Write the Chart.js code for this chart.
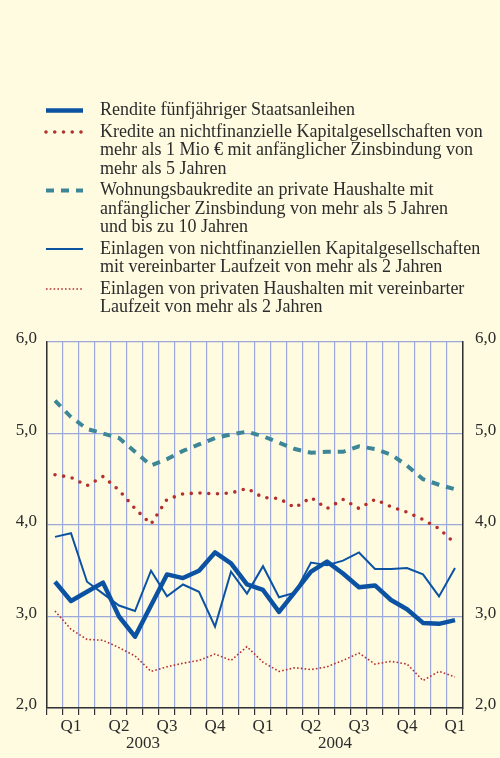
<!DOCTYPE html>
<html>
<head>
<meta charset="utf-8">
<script src="https://cdn.jsdelivr.net/npm/chart.js@4/dist/chart.umd.min.js"></script>
<style>
    html, body { margin: 0; padding: 0; background: #fffbe1; }
    #wrap { width: 500px; height: 758px; }
</style>
</head>
<body>
<div id="wrap"><canvas id="chart-zinsen"></canvas></div>
<script>
// Monate Jan 2003 bis Feb 2005
const months = ["Jan 03", "Feb 03", "Mär 03", "Apr 03", "Mai 03", "Jun 03", "Jul 03", "Aug 03", "Sep 03", "Okt 03", "Nov 03", "Dez 03",
    "Jan 04", "Feb 04", "Mär 04", "Apr 04", "Mai 04", "Jun 04", "Jul 04", "Aug 04", "Sep 04", "Okt 04", "Nov 04", "Dez 04",
    "Jan 05", "Feb 05"];
const quarter_labels = ["", "Q1", "", "", "Q2", "", "", "Q3", "", "", "Q4", "",
    "", "Q1", "", "", "Q2", "", "", "Q3", "", "", "Q4", "",
    "", "Q1"];
const years = ["2003", "2004"];
const y_ticks = ["2,0", "3,0", "4,0", "5,0", "6,0"];

const rendite = [3.38, 3.17, 3.27, 3.37, 3.00, 2.78, 3.12, 3.46, 3.42, 3.50, 3.70, 3.58,
    3.35, 3.29, 3.05, 3.27, 3.49, 3.60, 3.47, 3.32, 3.34, 3.18, 3.08, 2.93, 2.92, 2.96];
const kredite_nfk = [4.55, 4.52, 4.43, 4.53, 4.38, 4.18, 4.01, 4.28, 4.34, 4.35, 4.34, 4.35,
    4.40, 4.30, 4.29, 4.19, 4.30, 4.18, 4.28, 4.18, 4.28, 4.20, 4.14, 4.06, 3.96, 3.80];
const wohnungsbau = [5.36, 5.18, 5.05, 5.00, 4.95, 4.80, 4.65, 4.72, 4.81, 4.88, 4.95, 4.99,
    5.02, 4.97, 4.90, 4.83, 4.79, 4.80, 4.80, 4.86, 4.83, 4.77, 4.65, 4.50, 4.44, 4.39];
const einlagen_nfk = [3.87, 3.91, 3.38, 3.25, 3.12, 3.06, 3.50, 3.22, 3.35, 3.27, 2.89, 3.49,
    3.25, 3.55, 3.21, 3.26, 3.59, 3.56, 3.61, 3.70, 3.52, 3.52, 3.53, 3.46, 3.22, 3.53];
const einlagen_hh = [3.06, 2.86, 2.75, 2.74, 2.66, 2.57, 2.40, 2.45, 2.49, 2.52, 2.59, 2.52,
    2.67, 2.50, 2.40, 2.44, 2.42, 2.45, 2.52, 2.60, 2.48, 2.51, 2.48, 2.30, 2.40, 2.34];

const blau = "#0b53a2";
const rot = "#b4302e";
const petrol = "#3d8698";
const gitter = "#9aa8dc";
const text_farbe = "#2b2b2b";
const schrift = "'Liberation Serif', 'Times New Roman', serif";

Chart.defaults.font.family = schrift;
Chart.defaults.font.size = 17;
Chart.defaults.color = text_farbe;

// Legende links oben, mehrzeilig, mit Linienmustern
const legende_plugin = {
    id: "legende",
    afterDraw(chart) {
        const ctx = chart.ctx;
        let y = 110.5;
        chart.data.datasets.forEach((ds) => {
            ctx.save();
            ctx.strokeStyle = ds.borderColor;
            ctx.lineWidth = ds.borderWidth;
            ctx.lineCap = ds.borderCapStyle || "butt";
            ctx.setLineDash(ds.borderDash || []);
            ctx.beginPath();
            ctx.moveTo(46, y);
            ctx.lineTo(83, y);
            ctx.stroke();
            ctx.restore();

            ctx.save();
            ctx.fillStyle = text_farbe;
            ctx.font = "18px " + schrift;
            ctx.textBaseline = "middle";
            ds.label.forEach((zeile, i) => {
                ctx.fillText(zeile, 100, y + i * 18.5);
            });
            ctx.restore();
            y += ds.label.length * 18.5 + 3;
        });

        // Jahreszahlen unter den Quartalen
        const x_scale = chart.scales.x;
        ctx.save();
        ctx.fillStyle = text_farbe;
        ctx.font = "17px " + schrift;
        ctx.textAlign = "center";
        ctx.textBaseline = "middle";
        years.forEach((jahr, i) => {
            const x = (x_scale.getPixelForValue(5 + i * 12) + x_scale.getPixelForValue(6 + i * 12)) / 2;
            ctx.fillText(jahr, x, 744);
        });
        ctx.restore();
    },
};

const y_label = (value) => {
    const idx = Math.round(value) - 2;
    return y_ticks[idx] !== undefined ? y_ticks[idx] : "";
};

new Chart(document.getElementById("chart-zinsen"), {
    type: "line",
    data: {
        labels: months,
        datasets: [
            {
                label: ["Rendite fünfjähriger Staatsanleihen"],
                data: rendite,
                borderColor: blau,
                borderWidth: 4.5,
                borderJoinStyle: "round",
            },
            {
                label: ["Kredite an nichtfinanzielle Kapitalgesellschaften von",
                    "mehr als 1 Mio € mit anfänglicher Zinsbindung von",
                    "mehr als 5 Jahren"],
                data: kredite_nfk,
                borderColor: rot,
                borderWidth: 3.6,
                borderDash: [0, 8.75],
                borderCapStyle: "round",
            },
            {
                label: ["Wohnungsbaukredite an private Haushalte mit",
                    "anfänglicher Zinsbindung von mehr als 5 Jahren",
                    "und bis zu 10 Jahren"],
                data: wohnungsbau,
                borderColor: petrol,
                borderWidth: 4,
                borderDash: [8, 7],
            },
            {
                label: ["Einlagen von nichtfinanziellen Kapitalgesellschaften",
                    "mit vereinbarter Laufzeit von mehr als 2 Jahren"],
                data: einlagen_nfk,
                borderColor: blau,
                borderWidth: 2,
            },
            {
                label: ["Einlagen von privaten Haushalten mit vereinbarter",
                    "Laufzeit von mehr als 2 Jahren"],
                data: einlagen_hh,
                borderColor: rot,
                borderWidth: 1.6,
                borderDash: [1.6, 2.2],
            },
        ],
    },
    options: {
        responsive: true,
        maintainAspectRatio: false,
        animation: false,
        elements: {
            point: { radius: 0 },
            line: { tension: 0, fill: false },
        },
        layout: {
            padding: { top: 342, left: 0, right: 0, bottom: 0 },
        },
        plugins: {
            legend: { display: false },
            tooltip: { enabled: false },
        },
        scales: {
            x: {
                offset: true,
                afterFit: (s) => { s.height = 50; },
                grid: {
                    offset: true,
                    color: gitter,
                    lineWidth: 1.2,
                    tickColor: "#333",
                    tickLength: 7,
                    tickWidth: 1.2,
                },
                border: { color: "#333", width: 1.5 },
                ticks: {
                    autoSkip: false,
                    maxRotation: 0,
                    padding: 1,
                    callback: (value, index) => quarter_labels[index],
                },
            },
            y: {
                position: "left",
                min: 2,
                max: 6,
                afterFit: (s) => { s.width = 47; },
                grid: { color: gitter, lineWidth: 1.2, drawTicks: false },
                border: { color: "#333", width: 1.5 },
                ticks: { stepSize: 1, padding: 10, labelOffset: -3, callback: y_label },
            },
            y2: {
                position: "right",
                min: 2,
                max: 6,
                afterFit: (s) => { s.width = 37; },
                grid: { drawOnChartArea: false, drawTicks: false },
                border: { color: "#333", width: 1.5 },
                ticks: { stepSize: 1, padding: 12, labelOffset: -3, callback: y_label },
            },
        },
    },
    plugins: [legende_plugin],
});
</script>
</body>
</html>
